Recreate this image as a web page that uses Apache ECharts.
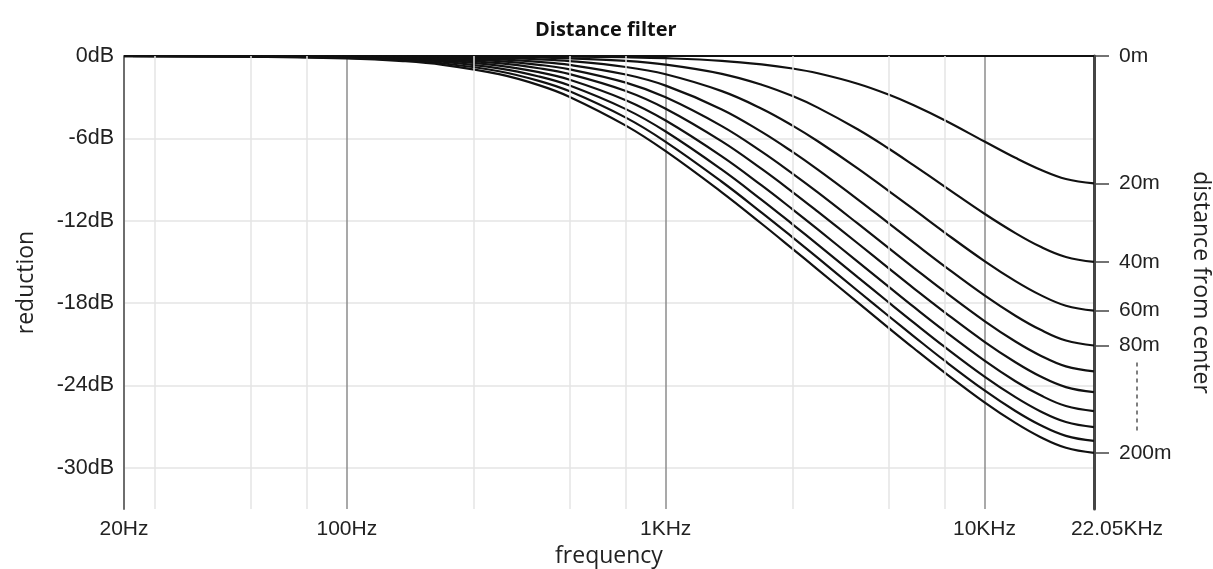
<!DOCTYPE html>
<html>
<head>
<meta charset="utf-8">
<script src="https://cdn.jsdelivr.net/npm/echarts@6/dist/echarts.min.js"></script>
<style>
html,body{margin:0;padding:0;background:#ffffff;}
#chart{width:1213px;height:569px;}
</style>
</head>
<body>
<div id="chart"></div>
<script>
// ---- data ----
const frequencies = [20, 50, 100, 150, 200, 300, 400, 500, 750, 1000, 1500, 2000, 2500, 3000, 4000, 5000, 6000, 7500, 10000, 12500, 15000, 18000, 22050];
const distanceNames = ['0m', '20m', '40m', '60m', '80m', '100m', '120m', '140m', '160m', '180m', '200m'];

const reduction_0m   = [0, 0, 0, 0, 0, 0, 0, 0, 0, 0, 0, 0, 0, 0, 0, 0, 0, 0, 0, 0, 0, 0, 0];
const reduction_20m  = [0, 0, 0, 0, -0.01, -0.01, -0.03, -0.04, -0.09, -0.16, -0.35, -0.61, -0.91, -1.26, -2.02, -2.81, -3.59, -4.68, -6.23, -7.42, -8.29, -8.96, -9.28];
const reduction_40m  = [0, 0, -0.01, -0.02, -0.03, -0.06, -0.11, -0.17, -0.36, -0.63, -1.30, -2.09, -2.92, -3.76, -5.34, -6.74, -7.97, -9.51, -11.49, -12.90, -13.90, -14.64, -15.00];
const reduction_60m  = [0, 0, -0.02, -0.03, -0.06, -0.14, -0.24, -0.37, -0.80, -1.33, -2.56, -3.84, -5.07, -6.21, -8.18, -9.82, -11.18, -12.86, -14.94, -16.40, -17.42, -18.19, -18.55];
const reduction_80m  = [0, -0.01, -0.03, -0.06, -0.11, -0.25, -0.43, -0.65, -1.35, -2.16, -3.89, -5.53, -6.99, -8.28, -10.44, -12.18, -13.60, -15.32, -17.44, -18.92, -19.95, -20.73, -21.09];
const reduction_100m = [0, -0.01, -0.04, -0.10, -0.17, -0.37, -0.64, -0.97, -1.94, -3.01, -5.11, -6.97, -8.57, -9.94, -12.20, -13.98, -15.43, -17.17, -19.31, -20.80, -21.83, -22.61, -22.97];
const reduction_120m = [0, -0.02, -0.06, -0.14, -0.24, -0.52, -0.89, -1.32, -2.55, -3.84, -6.22, -8.23, -9.91, -11.34, -13.64, -15.45, -16.92, -18.67, -20.82, -22.31, -23.35, -24.12, -24.49];
const reduction_140m = [0, -0.02, -0.08, -0.19, -0.33, -0.70, -1.18, -1.73, -3.22, -4.70, -7.31, -9.43, -11.17, -12.63, -14.98, -16.80, -18.28, -20.04, -22.19, -23.69, -24.72, -25.50, -25.87];
const reduction_160m = [0, -0.03, -0.11, -0.24, -0.42, -0.90, -1.49, -2.15, -3.87, -5.50, -8.28, -10.48, -12.26, -13.74, -16.11, -17.94, -19.42, -21.19, -23.35, -24.85, -25.89, -26.66, -27.03];
const reduction_180m = [-0.01, -0.03, -0.14, -0.30, -0.53, -1.11, -1.81, -2.57, -4.49, -6.25, -9.16, -11.41, -13.21, -14.71, -17.10, -18.94, -20.42, -22.20, -24.36, -25.86, -26.90, -27.67, -28.04];
const reduction_200m = [-0.01, -0.04, -0.17, -0.37, -0.64, -1.32, -2.12, -2.98, -5.07, -6.93, -9.93, -12.22, -14.05, -15.56, -17.95, -19.80, -21.29, -23.06, -25.23, -26.73, -27.77, -28.54, -28.91];

const curves = [reduction_0m, reduction_20m, reduction_40m, reduction_60m, reduction_80m, reduction_100m,
                reduction_120m, reduction_140m, reduction_160m, reduction_180m, reduction_200m];

const yTickValues = [0, -6, -12, -18, -24, -30];
const xTickLabels = { 20: '20Hz', 100: '100Hz', 1000: '1KHz', 10000: '10KHz', 22050: '22.05KHz' };
const minorGridFreqs = [25, 50, 75, 250, 500, 750, 2500, 5000, 7500];
// distances labelled on the right axis (the rest are shown by the dotted line)
const labelledDistances = ['0m', '20m', '40m', '60m', '80m', '200m'];

// ---- build options ----
const rightTickValues = labelledDistances.map(n => {
  const c = curves[distanceNames.indexOf(n)];
  return c[c.length - 1];
});

const series = curves.map((vals, i) => {
  const s = {
    name: distanceNames[i],
    type: 'line',
    data: frequencies.map((f, k) => [f, vals[k]]),
    showSymbol: false,
    smooth: 0.4,
    clip: false,
    z: 3,
    lineStyle: { color: '#111111', width: 2.2 },
    silent: true
  };
  if (i === 0) {
    s.markLine = {
      silent: true,
      symbol: 'none',
      label: { show: false },
      lineStyle: { color: '#e4e4e4', width: 1.5, type: 'solid' },
      data: minorGridFreqs.map(f => ({ xAxis: f }))
    };
  }
  return s;
});

const labelFont = 'Liberation Sans, Arial, Helvetica, sans-serif';
const nameFont = 'Open Sans, sans-serif';

const chart = echarts.init(document.getElementById('chart'));
chart.setOption({
  animation: false,
  backgroundColor: '#ffffff',
  title: {
    text: 'Distance filter',
    left: 530,
    top: 15,
    textStyle: { fontFamily: nameFont, fontWeight: 'bold', fontSize: 20, color: '#111' }
  },
  grid: { left: 124, right: 119, top: 56, bottom: 60, containLabel: false, outerBoundsMode: 'none' },
  xAxis: {
    type: 'log', logBase: 10, min: 20, max: 22050,
    name: 'frequency', nameLocation: 'middle', nameGap: 30,
    nameTextStyle: { fontFamily: nameFont, fontSize: 23, color: '#222' },
    axisLine: { show: false },
    axisTick: { show: false },
    splitLine: { show: true, lineStyle: { color: '#8c8c8c', width: 1.5 } },
    axisLabel: {
      showMinLabel: true, showMaxLabel: true,
      margin: 10,
      fontFamily: labelFont, fontSize: 21, color: '#222',
      formatter: v => {
        const keys = Object.keys(xTickLabels).map(Number);
        let best = keys[0];
        keys.forEach(k => { if (Math.abs(Math.log(k / v)) < Math.abs(Math.log(best / v))) best = k; });
        return best === 22050 ? '{r|' + xTickLabels[best] + '}' : xTickLabels[best];
      },
      rich: { r: { fontFamily: labelFont, fontSize: 21, color: '#222', padding: [0, 0, 0, 46] } }
    }
  },
  yAxis: [{
    type: 'value', min: -33, max: 0, position: 'left',
    name: 'reduction', nameLocation: 'middle', nameGap: 86,
    nameTextStyle: { fontFamily: nameFont, fontSize: 23, color: '#222' },
    axisLine: { show: true, lineStyle: { color: '#6e6e6e', width: 2 } },
    axisTick: { show: false, customValues: yTickValues },
    splitLine: { show: true, lineStyle: { color: '#e4e4e4', width: 1.5 } },
    axisLabel: {
      customValues: yTickValues, margin: 10,
      fontFamily: labelFont, fontSize: 21.5, color: '#222',
      formatter: v => Math.round(v) + 'dB'
    }
  }, {
    type: 'value', min: -33, max: 0, position: 'right',
    name: 'distance from center', nameLocation: 'middle', nameGap: 95, nameRotate: -90,
    nameTextStyle: { fontFamily: nameFont, fontSize: 23, color: '#222' },
    axisLine: { show: true, lineStyle: { color: '#454545', width: 3 } },
    axisTick: { show: true, inside: false, length: 15, customValues: rightTickValues, lineStyle: { color: '#454545', width: 1.5 } },
    splitLine: { show: false },
    axisLabel: {
      customValues: rightTickValues, margin: 25,
      fontFamily: labelFont, fontSize: 21, color: '#222',
      formatter: v => {
        let idx = 0;
        rightTickValues.forEach((t, i) => { if (Math.abs(t - v) < Math.abs(rightTickValues[idx] - v)) idx = i; });
        return labelledDistances[idx];
      }
    }
  }],
  series: series
});

// dotted line standing for the unlabeled distances between 80m and 200m
function drawDots() {
  const xr = chart.convertToPixel({ xAxisIndex: 0 }, 22050);
  const yTop = chart.convertToPixel({ yAxisIndex: 1 }, rightTickValues[labelledDistances.indexOf('80m')]);
  const yBot = chart.convertToPixel({ yAxisIndex: 1 }, rightTickValues[labelledDistances.indexOf('200m')]);
  chart.setOption({
    graphic: [{
      type: 'line', silent: true,
      shape: { x1: xr + 43, y1: yTop + 17, x2: xr + 43, y2: yBot - 19 },
      style: { stroke: '#555', lineWidth: 1.5, lineDash: [4, 4] }
    }]
  });
}
drawDots();
</script>
</body>
</html>
